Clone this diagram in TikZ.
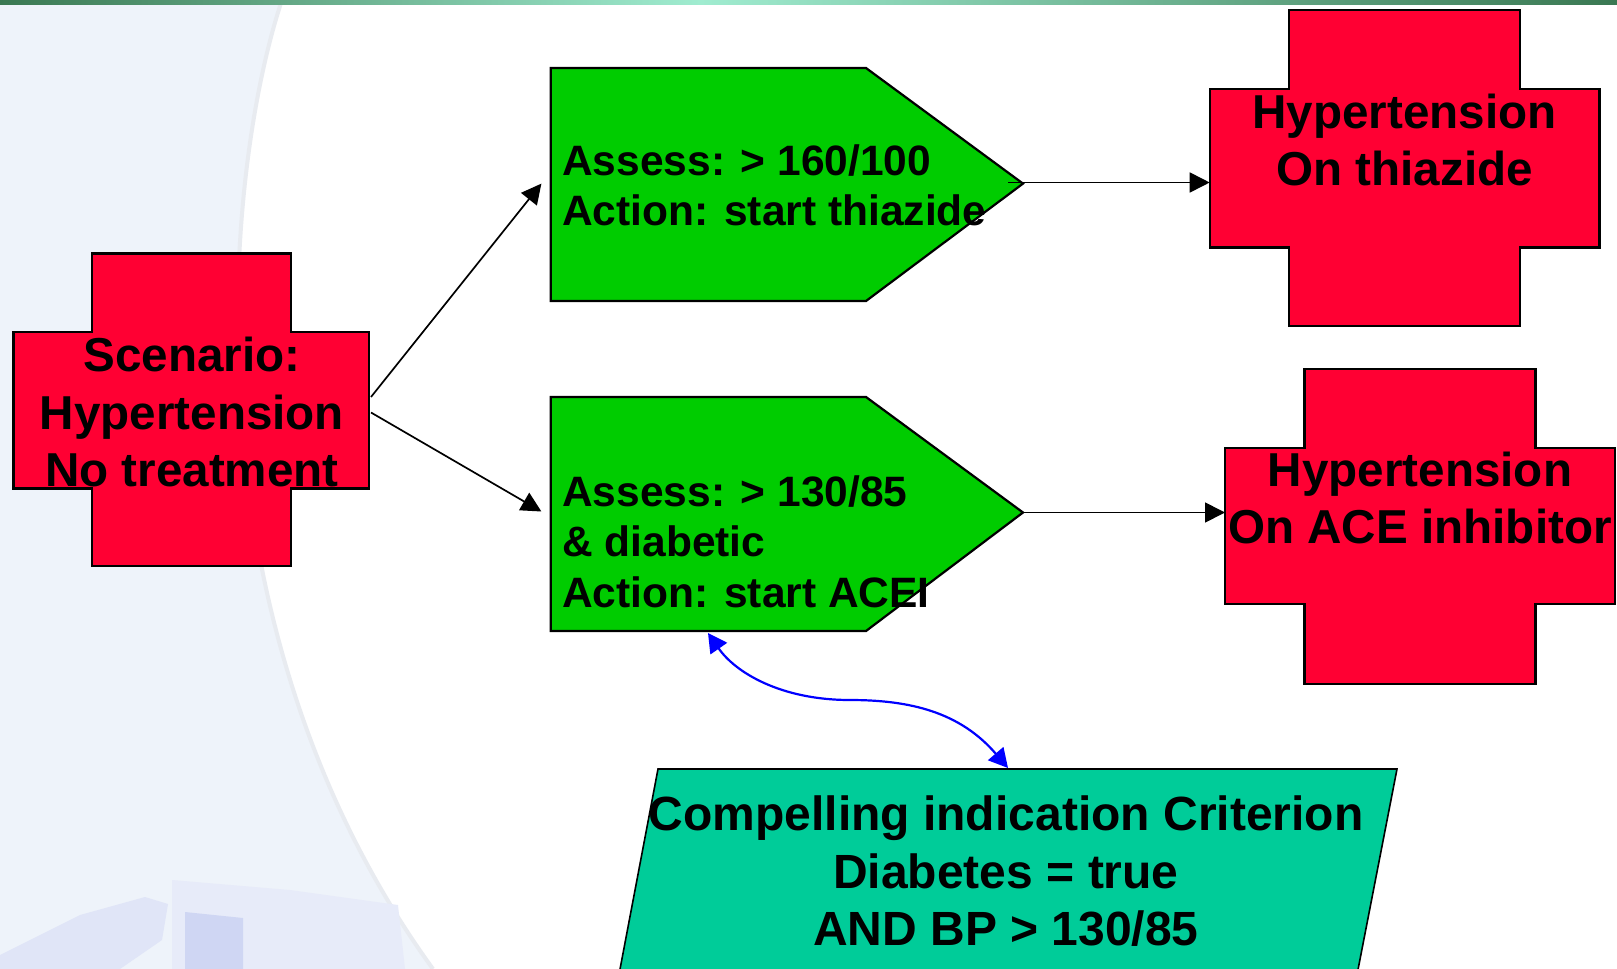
\documentclass[tikz,border=0pt]{standalone}
\usepackage{fontspec}
\setmainfont{Liberation Sans}
\usetikzlibrary{arrows.meta}

\definecolor{crossred}{RGB}{255,0,51}
\definecolor{stepgreen}{RGB}{0,204,0}
\definecolor{critteal}{RGB}{0,204,153}
\definecolor{panelblue}{RGB}{238,243,250}
\definecolor{paneledge}{RGB}{232,235,240}
\definecolor{ghostA}{RGB}{224,229,247}
\definecolor{ghostB}{RGB}{231,235,249}
\definecolor{ghostC}{RGB}{207,214,243}
\definecolor{banddark}{RGB}{58,120,82}
\definecolor{bandlight}{RGB}{160,236,208}
\definecolor{linkblue}{RGB}{0,0,255}

% red cross: #1,#2 = vertical bar corners x1,y1; #3,#4 = x2,y2; #5..#8 = horizontal bar x1,y1,x2,y2
\newcommand\drawredcross[8]{%
  \draw[crossfill] (#1,#2) -- (#3,#2) -- (#3,#6) -- (#7,#6) -- (#7,#8) -- (#3,#8)
    -- (#3,#4) -- (#1,#4) -- (#1,#8) -- (#5,#8) -- (#5,#6) -- (#1,#6) -- cycle;}

\begin{document}
\begin{tikzpicture}[x=1pt,y=-1pt,
  shapeline/.style={draw=black,line width=2.2pt,line join=miter},
  crossfill/.style={shapeline,fill=crossred},
  stepfill/.style={shapeline,fill=stepgreen},
  critfill/.style={draw=black,line width=1.6pt,fill=critteal},
  crosstext/.style={inner sep=0pt,align=center,font=\fontsize{47.6}{57.5}\selectfont\bfseries},
  steptext/.style={inner sep=0pt,align=left,anchor=west,font=\fontsize{42.5}{50.5}\selectfont\bfseries},
  crittext/.style={inner sep=0pt,align=center,font=\fontsize{48}{57.5}\selectfont\bfseries},
  flow/.style={draw=black,line width=1.7pt,-{Triangle[length=20pt,width=20pt]}},
  link/.style={draw=linkblue,line width=2.2pt,{Triangle[length=19pt,width=20pt]}-{Triangle[length=19pt,width=20pt]}}
]
\useasboundingbox (0,0) rectangle (1617,969);
\fill[white] (0,0) rectangle (1617,969);

% pale side panel with its curved edge
\fill[panelblue] (0,0) -- (282,0) .. controls (225,170) and (180,620) .. (433,969) -- (0,969) -- cycle;
\draw[paneledge,line width=4pt] (282,0) .. controls (225,170) and (180,620) .. (433,969);
% faint picture in the lower corner
\fill[ghostA] (0,955) -- (80,915) -- (145,897) -- (168,904) -- (162,940) -- (120,969) -- (0,969) -- cycle;
\fill[ghostB] (172,880) -- (290,890) -- (398,905) -- (405,969) -- (172,969) -- cycle;
\fill[ghostC] (185,912) -- (243,918) -- (243,969) -- (185,969) -- cycle;

% header band
\shade[left color=banddark,right color=bandlight] (0,0) rectangle (700,4);
\shade[left color=bandlight,right color=banddark] (700,0) rectangle (1617,4);

% crosses
\drawredcross{91.7}{253.5}{291}{566}{13.4}{332}{369.3}{488.5}
\drawredcross{1289}{10}{1520}{326}{1209.7}{88.7}{1599.5}{247.5}
\drawredcross{1304.5}{369}{1535.5}{683.7}{1225}{447.6}{1615}{604.3}

% action steps
\draw[stepfill] (550.7,68) -- (866,68) -- (1023,183.6) -- (866,301) -- (550.7,301) -- cycle;
\draw[stepfill] (550.7,397) -- (866,397) -- (1023,512.5) -- (866,631) -- (550.7,631) -- cycle;

% criterion
\draw[critfill] (617,985) -- (658,769) -- (1397,769) -- (1355,985);

% texts
\node[crosstext] (scen) at (192,412) {Scenario:\\Hypertension\\No treatment};
\node[crosstext] (thz) at (1404.6,140) {Hypertension\\On thiazide};
\node[crosstext] (ace) at (1420,498) {Hypertension\\On ACE inhibitor};
\node[steptext] (step1) at (562,185.5) {Assess: > 160/100\\Action: start thiazide};
\node[steptext] (step2) at (562,541.5) {Assess: > 130/85\\\& diabetic\\Action: start ACEI};
\node[crittext] (crit) at (1006,871.5) {Compelling indication Criterion\\Diabetes = true\\AND BP > 130/85};

% connection points on the shapes
\coordinate (scen-up) at (371,397);
\coordinate (scen-dn) at (371,412.5);
\coordinate (step1-in) at (541.4,183.6);
\coordinate (step2-in) at (541.4,511.5);
\coordinate (step1-out) at (1008,182.5);
\coordinate (step2-out) at (1023,512.5);
\coordinate (thz-in) at (1209.7,182.5);
\coordinate (ace-in) at (1225,512.5);
\coordinate (step2-bot) at (708,633);
\coordinate (link-mid) at (850,700);
\coordinate (crit-top) at (1008,768);

% connectors
\draw[flow] (scen-up) -- (step1-in);
\draw[flow] (scen-dn) -- (step2-in);
\draw[flow] (step1-out) -- (thz-in);
\draw[flow] (step2-out) -- (ace-in);
\draw[link] (step2-bot) .. controls (735,672) and (780,700) .. (link-mid)
  .. controls (910,700) and (960,712) .. (crit-top);
\end{tikzpicture}
\end{document}
